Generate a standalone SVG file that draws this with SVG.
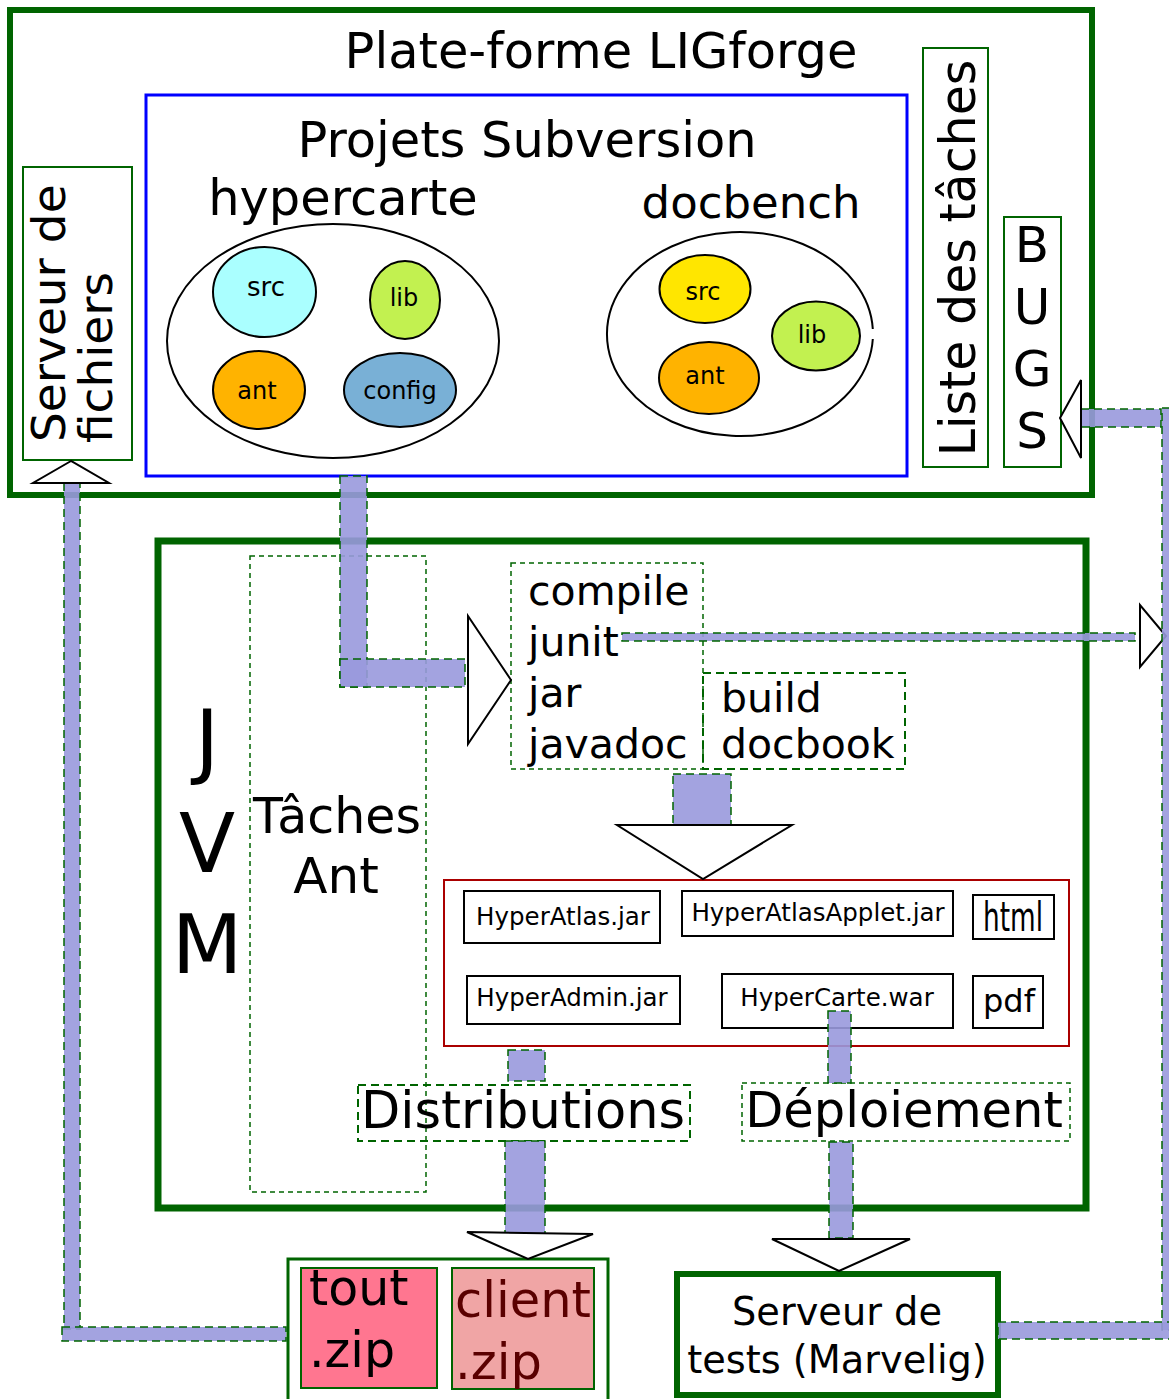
<svg xmlns="http://www.w3.org/2000/svg" width="1169" height="1399" viewBox="0 0 1169 1399">
<style>
text{font-family:"DejaVu Sans","Liberation Sans",sans-serif;fill:#000}
.thick{fill:none;stroke:#006400;stroke-width:6}
.thin{fill:#fff;stroke:#006400;stroke-width:2}
.dash{fill:none;stroke:#006400;stroke-width:1.5;stroke-dasharray:5 4}
.dash2{fill:none;stroke:#006400;stroke-width:2;stroke-dasharray:8 5}
.conn{fill:#9999dd;fill-opacity:.9;stroke:#006400;stroke-width:1.5;stroke-dasharray:8 5}
.tri{fill:#fff;stroke:#000;stroke-width:2}
.file{fill:#fff;stroke:#000;stroke-width:2}
.ell{stroke:#000;stroke-width:2}
</style>
<rect width="1169" height="1399" fill="#fff"/>
<g id="plateforme">
<rect class="thick" x="10" y="10" width="1082" height="485"/>
<text x="601" y="68" font-size="49.5" text-anchor="middle">Plate-forme LIGforge</text>
</g>
<g id="subversion">
<rect x="146" y="95" width="761" height="381" fill="none" stroke="#0000ff" stroke-width="3"/>
<text x="527" y="157" font-size="49.5" text-anchor="middle">Projets Subversion</text>
</g>
<g id="hypercarte">
<text x="343" y="215" font-size="49.5" text-anchor="middle">hypercarte</text>
<ellipse class="ell" cx="333" cy="341" rx="166" ry="117" fill="#fff"/>
<ellipse class="ell" cx="264.5" cy="292" rx="51.5" ry="45" fill="#aaffff"/>
<text x="266" y="296" font-size="26" text-anchor="middle">src</text>
<ellipse class="ell" cx="405" cy="300" rx="35" ry="39" fill="#c2f150"/>
<text x="404" y="306" font-size="24" text-anchor="middle">lib</text>
<ellipse class="ell" cx="259" cy="390" rx="46" ry="39" fill="#ffb300"/>
<text x="257" y="399" font-size="24" text-anchor="middle">ant</text>
<ellipse class="ell" cx="400" cy="390" rx="56" ry="37" fill="#79b0d6"/>
<text x="400" y="399" font-size="24" text-anchor="middle">config</text>
</g>
<g id="docbench">
<text x="751" y="218" font-size="45" text-anchor="middle">docbench</text>
<path class="ell" fill="#fff" d="M872.8 339 A133 102 0 1 1 872.8 329"/>
<ellipse class="ell" cx="705" cy="289" rx="45.5" ry="34" fill="#ffe600"/>
<text x="703" y="300" font-size="24" text-anchor="middle">src</text>
<ellipse class="ell" cx="816" cy="336" rx="44" ry="34.5" fill="#c2f150"/>
<text x="812" y="343" font-size="24" text-anchor="middle">lib</text>
<ellipse class="ell" cx="709" cy="378" rx="50" ry="36" fill="#ffb300"/>
<text x="705" y="384" font-size="24" text-anchor="middle">ant</text>
</g>
<g id="liste-taches">
<rect class="thin" x="923" y="48" width="65" height="419"/>
<text transform="translate(975,258) rotate(-90)" font-size="49" text-anchor="middle">Liste des tâches</text>
</g>
<g id="bugs">
<rect class="thin" x="1004" y="217" width="57" height="250"/>
<text x="1032" y="262" font-size="50" text-anchor="middle">B</text>
<text x="1032" y="324" font-size="50" text-anchor="middle">U</text>
<text x="1032" y="386" font-size="50" text-anchor="middle">G</text>
<text x="1032" y="448" font-size="50" text-anchor="middle">S</text>
</g>
<g id="serveur-fichiers">
<rect class="thin" x="23" y="167" width="109" height="293"/>
<text transform="translate(65,442) rotate(-90)" font-size="47">Serveur de</text>
<text transform="translate(112,443) rotate(-90)" font-size="47">fichiers</text>
</g>
<g id="jvm">
<rect x="158" y="541" width="928" height="667" fill="none" stroke="#006400" stroke-width="7"/>
<text x="207" y="769" font-size="82" text-anchor="middle">J</text>
<text x="207" y="872" font-size="82" text-anchor="middle">V</text>
<text x="207" y="973" font-size="82" text-anchor="middle">M</text>
</g>
<g id="taches-ant">
<rect class="dash" x="250" y="556" width="176" height="636"/>
<text x="337" y="833" font-size="49" text-anchor="middle">Tâches</text>
<text x="336" y="893" font-size="50" text-anchor="middle">Ant</text>
</g>
<g id="cibles-java">
<rect class="dash" x="511" y="563" width="192" height="206"/>
<text x="528" y="605" font-size="41">compile</text>
<text x="528" y="656" font-size="41">junit</text>
<text x="528" y="707" font-size="41">jar</text>
<text x="528" y="758" font-size="41">javadoc</text>
</g>
<g id="cibles-doc">
<rect class="dash2" x="703" y="673" width="202" height="96"/>
<text x="721" y="712" font-size="41">build</text>
<text x="721" y="758" font-size="41">docbook</text>
</g>
<g id="produits">
<rect x="444" y="880" width="625" height="166" fill="none" stroke="#aa0000" stroke-width="2"/>
<rect class="file" x="464" y="891" width="196" height="52"/>
<text x="563" y="925" font-size="24.5" text-anchor="middle">HyperAtlas.jar</text>
<rect class="file" x="682" y="891" width="271" height="45"/>
<text x="818" y="921" font-size="24.5" text-anchor="middle">HyperAtlasApplet.jar</text>
<rect class="file" x="973" y="895" width="81" height="44"/>
<text x="1013" y="931" font-size="40" text-anchor="middle" textLength="60" lengthAdjust="spacingAndGlyphs">html</text>
<rect class="file" x="467" y="976" width="213" height="48"/>
<text x="572" y="1006" font-size="24.5" text-anchor="middle">HyperAdmin.jar</text>
<rect class="file" x="722" y="974" width="231" height="54"/>
<text x="837" y="1006" font-size="24.5" text-anchor="middle">HyperCarte.war</text>
<rect class="file" x="973" y="976" width="70" height="52"/>
<text x="1009" y="1012" font-size="32" text-anchor="middle">pdf</text>
</g>
<g id="distributions">
<rect class="dash2" x="358" y="1085" width="332" height="56"/>
<text x="523" y="1128" font-size="51" text-anchor="middle">Distributions</text>
</g>
<g id="deploiement">
<rect class="dash" x="742" y="1083" width="328" height="58"/>
<text x="904" y="1127" font-size="49.5" text-anchor="middle">Déploiement</text>
</g>
<g id="archives">
<rect x="288" y="1259" width="320" height="150" fill="#fff" stroke="#006400" stroke-width="3"/>
<rect x="301" y="1268" width="136" height="120" fill="#ff7690" stroke="#006400" stroke-width="2"/>
<text x="309" y="1305" font-size="49">tout</text>
<text x="309" y="1367" font-size="49">.zip</text>
<rect x="452" y="1268" width="142" height="121" fill="#f0a5a5" stroke="#006400" stroke-width="2"/>
<text x="455" y="1317" font-size="49.5" style="fill:#5a0000">client</text>
<text x="455" y="1379" font-size="49.5" style="fill:#5a0000">.zip</text>
</g>
<g id="serveur-tests">
<rect x="677" y="1274" width="321" height="121" fill="#fff" stroke="#006400" stroke-width="6"/>
<text x="837" y="1325" font-size="38.3" text-anchor="middle">Serveur de</text>
<text x="837" y="1373" font-size="38.3" text-anchor="middle">tests (Marvelig)</text>
</g>
<g id="connecteurs">
<rect class="conn" x="64" y="483" width="16" height="846"/>
<rect class="conn" x="62" y="1327" width="224" height="14"/>
<polygon class="tri" points="71,461 33,483 109,483"/>
<rect class="conn" x="340" y="476" width="27" height="211"/>
<rect class="conn" x="340" y="659" width="125" height="28"/>
<polygon class="tri" points="468,616 468,744 511,680"/>
<rect class="conn" x="622" y="633" width="513" height="8"/>
<polygon class="tri" points="1140,605 1140,667 1166,636"/>
<rect class="conn" x="1162" y="408" width="14" height="922"/>
<rect class="conn" x="1081" y="409" width="80" height="18"/>
<polygon class="tri" points="1060,418 1081,380 1081,458"/>
<rect class="conn" x="998" y="1322" width="178" height="17"/>
<rect class="conn" x="673" y="774" width="58" height="51"/>
<polygon class="tri" points="617,825 792,825 703,879"/>
<rect class="conn" x="508" y="1050" width="37" height="31"/>
<rect class="conn" x="505" y="1141" width="40" height="93"/>
<polygon class="tri" points="467,1232 593,1234 528,1259"/>
<rect class="conn" x="828" y="1011" width="23" height="72"/>
<rect class="conn" x="829" y="1142" width="24" height="96"/>
<polygon class="tri" points="772,1239 910,1239 839,1271"/>
</g>
</svg>
